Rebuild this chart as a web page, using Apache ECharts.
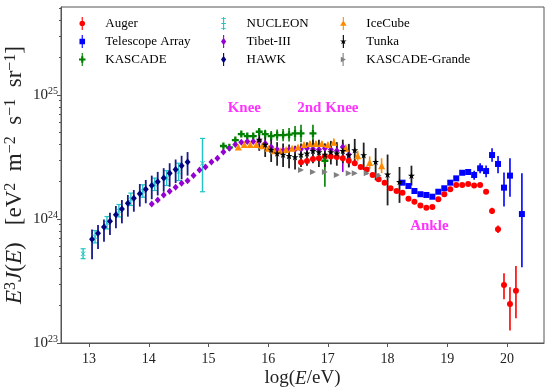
<!DOCTYPE html>
<html><head><meta charset="utf-8">
<script src="https://cdn.jsdelivr.net/npm/echarts@6/dist/echarts.min.js"></script>
<style>html,body{margin:0;padding:0;background:#fff}#c{width:550px;height:389px}</style>
</head><body><div id="c"></div>
<script>
// ---------- axis ticks ----------
const xTicks = [13, 14, 15, 16, 17, 18, 19, 20];
const yDecades = [23, 24, 25];           // log10 of E^3 J(E)

// ---------- data: log10(E/eV), log10(E^3 J), error down/up in log10 ----------
const augerLogE = [16.55,16.65,16.75,16.85,16.95,17.05,17.15,17.25,17.35,17.45,17.55,17.65,17.75,17.85,17.95,18.05,18.15,18.25,18.35,18.45,18.55,18.65,18.75,18.85,18.95,19.05,19.15,19.25,19.35,19.45,19.55,19.65,19.75,19.85,19.95,20.05,20.15];
const augerFlux = [24.457,24.468,24.484,24.49,24.505,24.505,24.50,24.49,24.47,24.45,24.42,24.40,24.355,24.32,24.293,24.248,24.226,24.212,24.164,24.14,24.11,24.09,24.097,24.159,24.20,24.24,24.274,24.274,24.282,24.27,24.274,24.22,24.065,23.917,23.468,23.315,23.422];
const augerErrDown = [.01,.01,.01,.01,.01,.01,.01,.01,.01,.01,.01,.01,.01,.01,.01,.01,.01,.01,.01,.01,.01,.01,.01,.01,.01,.01,.01,.01,.01,.01,.01,.015,.025,.03,.116,.215,.223];
const augerErrUp   = [.01,.01,.01,.01,.01,.01,.01,.01,.01,.01,.01,.01,.01,.01,.01,.01,.01,.01,.01,.01,.01,.01,.01,.01,.01,.01,.01,.01,.01,.01,.01,.015,.025,.03,.094,.134,.199];

const taLogE = [18.25,18.35,18.45,18.55,18.65,18.75,18.85,18.95,19.05,19.15,19.25,19.35,19.45,19.55,19.65,19.75,19.85,19.95,20.05,20.25];
const taFlux = [24.293,24.266,24.226,24.20,24.194,24.18,24.22,24.248,24.293,24.328,24.373,24.379,24.355,24.409,24.387,24.516,24.444,24.253,24.35,24.04];
const taErrDown = [.01,.01,.01,.01,.01,.01,.01,.01,.01,.014,.016,.025,.038,.04,.05,.054,.075,.153,.17,.43];
const taErrUp   = [.01,.01,.01,.01,.01,.01,.01,.01,.01,.014,.016,.025,.035,.04,.045,.054,.064,.123,.14,.33];

const kascadeLogE = [15.25,15.35,15.45,15.55,15.65,15.75,15.85,15.95,16.05,16.15,16.25,16.35,16.45,16.55,16.75,16.95];
const kascadeFlux = [24.589,24.578,24.637,24.685,24.669,24.669,24.704,24.685,24.669,24.677,24.677,24.68,24.69,24.69,24.69,24.47];
const kascadeErrDown = [.012,.012,.015,.015,.02,.025,.03,.035,.04,.045,.05,.055,.06,.07,.09,.21];
const kascadeErrUp   = [.012,.012,.015,.015,.02,.025,.03,.035,.04,.045,.05,.055,.06,.07,.07,.05];

const nucleonLogE = [12.9,13.1,13.3,13.5,13.7,13.9,14.1,14.3,14.5,14.9];
const nucleonFlux = [23.72,23.857,23.97,24.067,24.159,24.226,24.28,24.33,24.38,24.45];
const nucleonErrDown = [.04,.05,.05,.05,.05,.05,.05,.06,.07,.23];
const nucleonErrUp   = [.04,.05,.05,.05,.05,.05,.05,.06,.07,.20];

const tibetLogE = [14.05,14.15,14.25,14.35,14.45,14.55,14.65,14.75,14.85,14.95,15.05,15.15,15.25,15.35,15.45,15.55,15.65,15.75,15.85,15.95,16.05,16.15,16.25,16.35,16.45,16.55,16.65,16.75,16.85,16.95,17.05,17.15,17.25,17.35];
const tibetFlux = [24.121,24.153,24.194,24.223,24.256,24.288,24.309,24.35,24.395,24.42,24.46,24.49,24.54,24.57,24.60,24.62,24.625,24.625,24.63,24.61,24.58,24.56,24.555,24.56,24.56,24.565,24.57,24.565,24.56,24.57,24.56,24.55,24.58,24.52];
const tibetErrDown = [.01,.01,.01,.01,.01,.01,.01,.01,.01,.01,.01,.01,.01,.01,.01,.01,.01,.01,.01,.01,.01,.01,.01,.01,.015,.015,.02,.02,.025,.03,.04,.05,.20,.10];
const tibetErrUp   = [.01,.01,.01,.01,.01,.01,.01,.01,.01,.01,.01,.01,.01,.01,.01,.01,.01,.01,.01,.01,.01,.01,.01,.01,.015,.015,.02,.02,.025,.03,.04,.05,.03,.08];

const hawkLogE = [13.05,13.15,13.25,13.35,13.45,13.55,13.65,13.75,13.85,13.95,14.05,14.15,14.25,14.35,14.45,14.55,14.65];
const hawkFlux = [23.836,23.885,23.935,23.981,24.035,24.081,24.127,24.167,24.204,24.24,24.27,24.30,24.33,24.37,24.40,24.43,24.46];
const hawkErrDown = [.16,.127,.118,.11,.11,.116,.108,.108,.104,.113,.11,.11,.11,.11,.11,.11,.11];
const hawkErrUp   = [.08,.067,.062,.07,.07,.072,.067,.067,.078,.075,.08,.08,.08,.08,.08,.08,.08];

const icecubeLogE = [15.5,15.6,15.7,15.8,15.9,16.0,16.1,16.2,16.3,16.4,16.5,16.6,16.7,16.8,16.9,17.0,17.1,17.3,17.5,17.7,17.9];
const icecubeFlux = [24.58,24.60,24.60,24.60,24.59,24.57,24.55,24.55,24.56,24.57,24.58,24.60,24.61,24.61,24.61,24.60,24.62,24.57,24.51,24.455,24.43];
const icecubeErrDown = [.01,.01,.01,.01,.01,.01,.01,.01,.01,.01,.01,.015,.02,.02,.02,.02,.03,.03,.04,.05,.06];
const icecubeErrUp   = [.01,.01,.01,.01,.01,.01,.01,.01,.01,.01,.01,.015,.02,.02,.02,.02,.03,.03,.04,.05,.06];

const tunkaLogE = [15.85,15.95,16.05,16.15,16.25,16.35,16.45,16.55,16.65,16.75,16.85,16.95,17.05,17.15,17.25,17.35,17.45,17.6,17.8,18.0,18.2,18.4];
const tunkaFlux = [24.64,24.60,24.56,24.53,24.52,24.51,24.50,24.52,24.53,24.55,24.54,24.52,24.54,24.53,24.55,24.516,24.556,24.516,24.462,24.36,24.30,24.35];
const tunkaErrDown = [.09,.1,.1,.1,.1,.1,.1,.1,.1,.1,.12,.1,.1,.1,.1,.1,.1,.12,.15,.25,.17,.08];
const tunkaErrUp   = [.08,.09,.09,.09,.09,.09,.09,.09,.09,.09,.1,.09,.09,.09,.09,.09,.09,.1,.11,.16,.12,.08];

const grandeLogE = [16.55,16.75,16.95,17.15,17.35,17.45,17.65,17.85];
const grandeFlux = [24.395,24.38,24.38,24.355,24.37,24.37,24.37,24.35];
const grandeErrDown = [.01,.01,.01,.01,.01,.01,.015,.02];
const grandeErrUp   = [.01,.01,.01,.01,.01,.01,.015,.02];

// annotations (text anchored in data space)
const noteText = ['Knee', '2nd Knee', 'Ankle'];
const noteLogE = [15.6, 17.0, 18.7];
const noteFlux = [24.895, 24.895, 23.944];

// ---------- styling ----------
const FONT = '"Liberation Serif", "DejaVu Serif", serif';
const STAR = 'path://M0,-1L0.2245,-0.309L0.951,-0.309L0.363,0.118L0.588,0.809L0,0.382L-0.588,0.809L-0.363,0.118L-0.951,-0.309L-0.2245,-0.309Z';
const PLUS = 'path://M-0.33,-1L0.33,-1L0.33,-0.33L1,-0.33L1,0.33L0.33,0.33L0.33,1L-0.33,1L-0.33,0.33L-1,0.33L-1,-0.33L-0.33,-0.33Z';
const TRI_R = 'path://M0,0L1,0.5L0,1Z';
const XMARK = 'path://M-1,-0.8L-0.8,-1L0,-0.2L0.8,-1L1,-0.8L0.2,0L1,0.8L0.8,1L0,0.2L-0.8,1L-1,0.8L-0.2,0Z';

const BAR = 'M3.4,0h1.2v14h-1.2z';
const legendIcons = {
  circle: 'path://' + BAR + 'M1,7a3,3 0 1,1 6,0a3,3 0 1,1 -6,0z',
  square: 'path://' + BAR + 'M1,4h6v6h-6z',
  plus:   'path://' + BAR + 'M2.8,3.6h2.4v2.2h2.3v2.4h-2.3v2.2h-2.4v-2.2h-2.3v-2.4h2.3z',
  caps:   'path://' + BAR + 'M1.5,1h5v1h-5z M1.5,12h5v1h-5z M1.5,6.5h5v1h-5z',
  diamond:'path://' + BAR + 'M4,3L6.8,7L4,11L1.2,7z',
  triUp:  'path://' + BAR + 'M4,3.5L7.5,9.5L0.5,9.5z',
  star:   'path://' + BAR + 'M4,3.2L4.8,5.8L7.6,5.8L5.4,7.4L6.2,10L4,8.4L1.8,10L2.6,7.4L0.4,5.8L3.2,5.8z',
  triR:   'path://' + BAR + 'M1.5,4L7,7L1.5,10z'
};

const sets = [
  {name:'Auger', x:augerLogE, y:augerFlux, dn:augerErrDown, up:augerErrUp, color:'#ff0000', bar:'#ff0000', symbol:'circle', size:6, icon:'circle', lw:1.6},
  {name:'Telescope Array', x:taLogE, y:taFlux, dn:taErrDown, up:taErrUp, color:'#0000ff', bar:'#0000ff', symbol:'rect', size:6, icon:'square', lw:1.6},
  {name:'KASCADE', x:kascadeLogE, y:kascadeFlux, dn:kascadeErrDown, up:kascadeErrUp, color:'#008000', bar:'#008000', symbol:PLUS, size:7, icon:'plus', lw:1.6},
  {name:'NUCLEON', x:nucleonLogE, y:nucleonFlux, dn:nucleonErrDown, up:nucleonErrUp, color:'#1fc4c4', bar:'#1fc4c4', symbol:XMARK, size:5, icon:'caps', lw:1.4, cap:true},
  {name:'Tibet-III', x:tibetLogE, y:tibetFlux, dn:tibetErrDown, up:tibetErrUp, color:'#9400d3', bar:'#9400d3', symbol:'diamond', size:[6,7], icon:'diamond', lw:1.6},
  {name:'HAWK', x:hawkLogE, y:hawkFlux, dn:hawkErrDown, up:hawkErrUp, color:'#000080', bar:'#1a1a8c', symbol:'diamond', size:[6,7], icon:'diamond', lw:1.8},
  {name:'IceCube', x:icecubeLogE, y:icecubeFlux, dn:icecubeErrDown, up:icecubeErrUp, color:'#ff8c00', bar:'#ff8c00', symbol:'triangle', size:7, icon:'triUp', lw:1.6},
  {name:'Tunka', x:tunkaLogE, y:tunkaFlux, dn:tunkaErrDown, up:tunkaErrUp, color:'#000000', bar:'#222222', symbol:STAR, size:7, icon:'star', lw:1.8},
  {name:'KASCADE-Grande', x:grandeLogE, y:grandeFlux, dn:grandeErrDown, up:grandeErrUp, color:'#808080', bar:'#808080', symbol:TRI_R, size:[6,6], icon:'triR', lw:1.6}
];

function errRender(color, lw, cap) {
  return function (params, api) {
    const x = api.value(0), lo = api.value(1), hi = api.value(2);
    const p1 = api.coord([x, lo]), p2 = api.coord([x, hi]);
    const ch = [{type:'line', shape:{x1:p1[0], y1:p1[1], x2:p2[0], y2:p2[1]}, style:{stroke:color, lineWidth:lw}}];
    if (cap) {
      ch.push({type:'line', shape:{x1:p1[0]-2.5, y1:p1[1], x2:p1[0]+2.5, y2:p1[1]}, style:{stroke:color, lineWidth:1.2}});
      ch.push({type:'line', shape:{x1:p2[0]-2.5, y1:p2[1], x2:p2[0]+2.5, y2:p2[1]}, style:{stroke:color, lineWidth:1.2}});
    }
    return {type:'group', children:ch};
  };
}

const series = [];
sets.forEach(function (s) {
  series.push({
    name: s.name, type: 'custom', renderItem: errRender(s.bar, s.lw, s.cap), clip: true,
    encode: {x: 0, y: [1, 2]}, silent: true,
    data: s.x.map((v, i) => [v, s.y[i] - s.dn[i], s.y[i] + s.up[i]])
  });
  series.push({
    name: s.name, type: 'scatter', symbol: s.symbol, symbolSize: s.size, clip: true,
    itemStyle: {color: s.color, opacity: 1}, silent: true,
    data: s.x.map((v, i) => [v, s.y[i]])
  });
});
series.push({
  name: 'notes', type: 'scatter', symbolSize: 0, itemStyle: {color: 'rgba(0,0,0,0)'}, silent: true, z: 5,
  data: noteText.map((t, i) => ({value: [noteLogE[i], noteFlux[i]], name: t})),
  label: {show: true, position: 'inside', formatter: p => p.name, color: '#ff00ff',
          fontFamily: FONT, fontWeight: 'bold', fontSize: 15}
});

function legendCol(items, left) {
  return {
    left: left, top: 17, orient: 'vertical', padding: 0, itemGap: 5,
    itemWidth: 8, itemHeight: 13, selectedMode: false,
    formatter: '{t|{name}}',
    textStyle: {fontFamily: FONT, fontSize: 13, color: '#000',
                rich: {t: {fontFamily: FONT, fontSize: 13, color: '#000', padding: [0, 0, 0, 14]}}},
    data: items.map(s => ({name: s.name, icon: legendIcons[s.icon], itemStyle: {color: s.color}}))
  };
}

const minorTicks = [];
yDecades.forEach(function (d) { for (let k = 2; k <= 9; k++) minorTicks.push(d + Math.log10(k)); });

const option = {
  animation: false,
  backgroundColor: '#fff',
  grid: {left: 61, right: 6, top: 7, bottom: 46, show: true, borderColor: '#555', borderWidth: 1,
         containLabel: false, outerBoundsMode: 'none'},
  legend: [legendCol(sets.slice(0, 3), 79), legendCol(sets.slice(3, 6), 221), legendCol(sets.slice(6, 9), 340)],
  xAxis: {
    type: 'value', min: 12.53, max: 20.62,
    axisLine: {show: true, lineStyle: {color: '#555'}},
    axisTick: {show: true, customValues: xTicks, length: 4, lineStyle: {color: '#555'}},
    axisLabel: {customValues: xTicks, fontFamily: FONT, fontSize: 14, color: '#222', margin: 9},
    splitLine: {show: false},
    name: 'log({i|E}/eV)', nameLocation: 'middle', nameGap: 26, nameMoveOverlap: false,
    nameTextStyle: {fontFamily: FONT, fontSize: 19, color: '#222', rich: {i: {fontStyle: 'italic', fontFamily: FONT, fontSize: 19}}}
  },
  yAxis: [{
    type: 'value', min: 23, max: 25.71,
    axisLine: {show: true, lineStyle: {color: '#555'}},
    axisTick: {show: true, customValues: yDecades, length: 4, lineStyle: {color: '#555'}},
    axisLabel: {customValues: yDecades, formatter: v => '10{s|' + Math.round(v) + '}', fontFamily: FONT, fontSize: 15, color: '#222', margin: 3,
                rich: {s: {fontSize: 10, fontFamily: FONT, verticalAlign: 'top', padding: [0, 0, 7, 0]}}},
    splitLine: {show: false},
    name: '{i|E}{s|3}{i|J}({i|E})   [eV{s|2}  m{s|−2}  s{s|−1}  sr{s|−1}]',
    nameLocation: 'middle', nameGap: 34, nameRotate: 90, nameMoveOverlap: false,
    nameTextStyle: {fontFamily: FONT, fontSize: 23, color: '#222',
      rich: {i: {fontStyle: 'italic', fontFamily: FONT, fontSize: 23}, s: {fontSize: 16, fontFamily: FONT, verticalAlign: 'top', padding: [0, 0, 8, 0]}}}
  }, {
    type: 'value', min: 23, max: 25.71, position: 'left',
    axisLine: {show: false},
    axisTick: {show: true, customValues: minorTicks, length: 2, lineStyle: {color: '#555'}},
    axisLabel: {show: false}, splitLine: {show: false}
  }],
  series: series
};

const chart = echarts.init(document.getElementById('c'), null, {renderer: 'canvas'});
chart.setOption(option);
</script></body></html>
